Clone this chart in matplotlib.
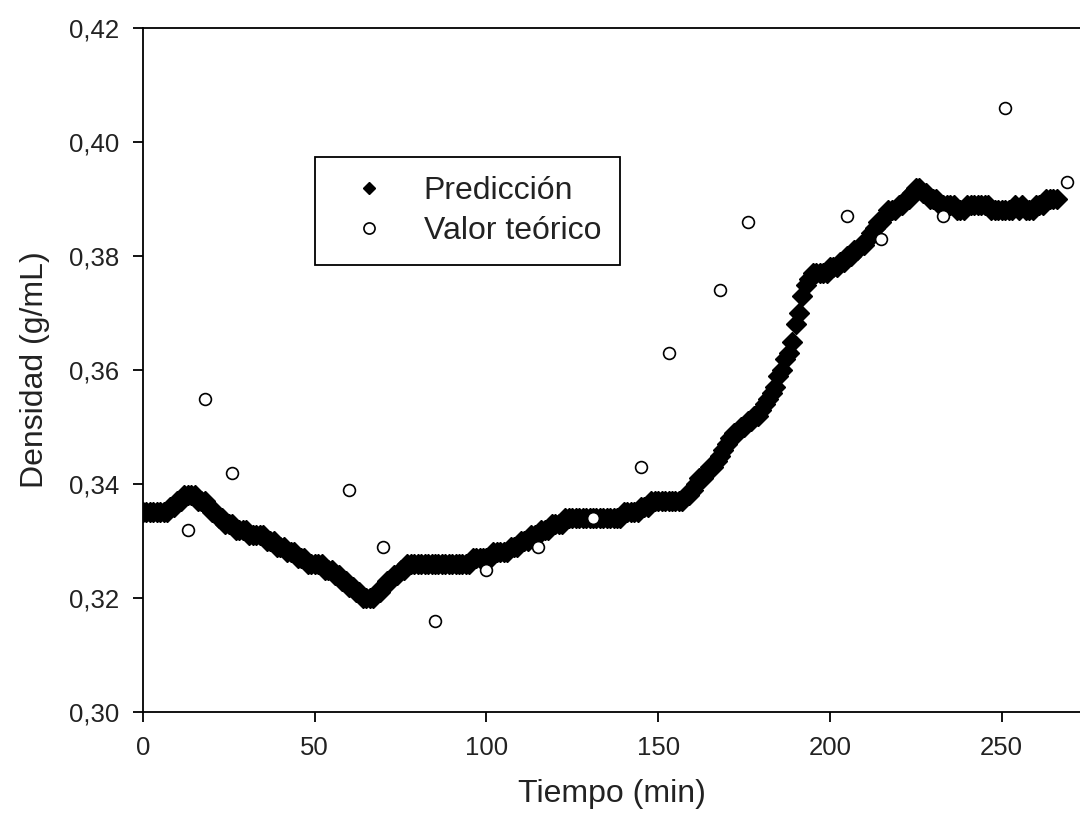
import matplotlib
matplotlib.use("Agg")
import matplotlib.pyplot as plt
from matplotlib.ticker import FuncFormatter

plt.rcParams['font.family'] = ['Liberation Sans', 'DejaVu Sans']

# Predicción (one value per minute, 0..266)
pred_t = list(range(0, 267))
pred_d = [
    0.335, 0.335, 0.335, 0.335, 0.335, 0.335, 0.335, 0.335, 0.336, 0.336,   # 0-9
    0.337, 0.337, 0.338, 0.338, 0.338, 0.338, 0.337, 0.337, 0.337, 0.336,   # 10-19
    0.335, 0.335, 0.334, 0.334, 0.333, 0.333, 0.333, 0.332, 0.332, 0.332,   # 20-29
    0.332, 0.331, 0.331, 0.331, 0.331, 0.331, 0.330, 0.330, 0.330, 0.329,   # 30-39
    0.329, 0.329, 0.328, 0.328, 0.328, 0.327, 0.327, 0.327, 0.326, 0.326,   # 40-49
    0.326, 0.326, 0.326, 0.325, 0.325, 0.325, 0.324, 0.324, 0.323, 0.323,   # 50-59
    0.322, 0.322, 0.321, 0.321, 0.320, 0.320, 0.320, 0.320, 0.321, 0.321,   # 60-69
    0.322, 0.323, 0.323, 0.324, 0.324, 0.325, 0.325, 0.326, 0.326, 0.326,   # 70-79
    0.326, 0.326, 0.326, 0.326, 0.326, 0.326, 0.326, 0.326, 0.326, 0.326,   # 80-89
    0.326, 0.326, 0.326, 0.326, 0.326, 0.326, 0.327, 0.327, 0.327, 0.327,   # 90-99
    0.327, 0.327, 0.328, 0.328, 0.328, 0.328, 0.328, 0.329, 0.329, 0.329,   # 100-109
    0.330, 0.330, 0.330, 0.331, 0.331, 0.331, 0.332, 0.332, 0.332, 0.333,   # 110-119
    0.333, 0.333, 0.333, 0.334, 0.334, 0.334, 0.334, 0.334, 0.334, 0.334,   # 120-129
    0.334, 0.334, 0.334, 0.334, 0.334, 0.334, 0.334, 0.334, 0.334, 0.334,   # 130-139
    0.335, 0.335, 0.335, 0.335, 0.335, 0.336, 0.336, 0.336, 0.337, 0.337,   # 140-149
    0.337, 0.337, 0.337, 0.337, 0.337, 0.337, 0.337, 0.337, 0.338, 0.338,   # 150-159
    0.339, 0.340, 0.341, 0.341, 0.342, 0.343, 0.343, 0.344, 0.345, 0.346,   # 160-169
    0.347, 0.348, 0.349, 0.349, 0.350, 0.350, 0.351, 0.351, 0.352, 0.352,   # 170-179
    0.353, 0.354, 0.355, 0.356, 0.357, 0.359, 0.360, 0.362, 0.363, 0.365,   # 180-189
    0.368, 0.370, 0.373, 0.375, 0.376, 0.377, 0.377, 0.377, 0.377, 0.377,   # 190-199
    0.378, 0.378, 0.378, 0.379, 0.379, 0.380, 0.380, 0.381, 0.381, 0.382,   # 200-209
    0.382, 0.383, 0.384, 0.385, 0.386, 0.386, 0.387, 0.388, 0.388, 0.388,   # 210-219
    0.389, 0.389, 0.390, 0.390, 0.391, 0.392, 0.392, 0.391, 0.391, 0.390,   # 220-229
    0.390, 0.390, 0.389, 0.389, 0.389, 0.389, 0.389, 0.388, 0.388, 0.388,   # 230-239
    0.389, 0.389, 0.389, 0.389, 0.389, 0.389, 0.389, 0.388, 0.388, 0.388,   # 240-249
    0.388, 0.388, 0.388, 0.388, 0.389, 0.388, 0.389, 0.388, 0.388, 0.388,   # 250-259
    0.389, 0.389, 0.389, 0.390, 0.390, 0.390, 0.390,                        # 260-266
]

# Valor teórico
teo_t = [13, 18, 26, 60, 70, 85, 100, 115, 131, 145, 153, 168, 176, 205, 215, 233, 251, 269]
teo_d = [0.332, 0.355, 0.342, 0.339, 0.329, 0.316, 0.325, 0.329, 0.334, 0.343,
         0.363, 0.374, 0.386, 0.387, 0.383, 0.387, 0.406, 0.393]

x_ticks = [0, 50, 100, 150, 200, 250]
y_ticks = [0.30, 0.32, 0.34, 0.36, 0.38, 0.40, 0.42]

fig = plt.figure(figsize=(10.8, 8.21), dpi=100)
ax = fig.add_axes([143 / 1080, 1 - 712 / 821, (1080 - 143) / 1080, (712 - 28) / 821])

ax.plot(pred_t, pred_d, linestyle='none', marker='D', markersize=10,
        markerfacecolor='black', markeredgecolor='black', label='Predicción', zorder=2)
ax.plot(teo_t, teo_d, linestyle='none', marker='o', markersize=8.5,
        markerfacecolor='white', markeredgecolor='black', markeredgewidth=1.2,
        label='Valor teórico', zorder=3)

ax.set_xlim(0, 272.8)
ax.set_ylim(0.30, 0.42)
ax.set_xticks(x_ticks)
ax.set_yticks(y_ticks)
ax.yaxis.set_major_formatter(FuncFormatter(lambda v, p: f"{v:.2f}".replace('.', ',')))
ax.xaxis.set_major_formatter(FuncFormatter(lambda v, p: f"{v:.0f}"))

for s in ['left', 'bottom', 'top']:
    ax.spines[s].set_linewidth(1.3)
ax.spines['right'].set_visible(False)
ax.tick_params(axis='both', direction='out', length=7, width=1.3, labelsize=18.5,
               colors='black', labelcolor='#222222')
ax.tick_params(axis='x', pad=10)
ax.tick_params(axis='y', pad=10)

ax.set_xlabel('Tiempo (min)', fontsize=23, color='#222222', labelpad=14)
ax.set_ylabel('Densidad (g/mL)', fontsize=23, color='#222222', labelpad=14)

leg = ax.legend(loc='upper left', bbox_to_anchor=(0.1836, 0.8114), fontsize=23,
                frameon=True, fancybox=False, edgecolor='black', framealpha=1,
                borderpad=0.6, handlelength=2.2, handletextpad=0.6, labelspacing=0.3,
                borderaxespad=0)
leg.get_frame().set_linewidth(1.3)
leg.legend_handles[0].set_markersize(6)
leg.legend_handles[1].set_markersize(8)
for t in leg.get_texts():
    t.set_color('#222222')

fig.savefig('out.png', dpi=100)
